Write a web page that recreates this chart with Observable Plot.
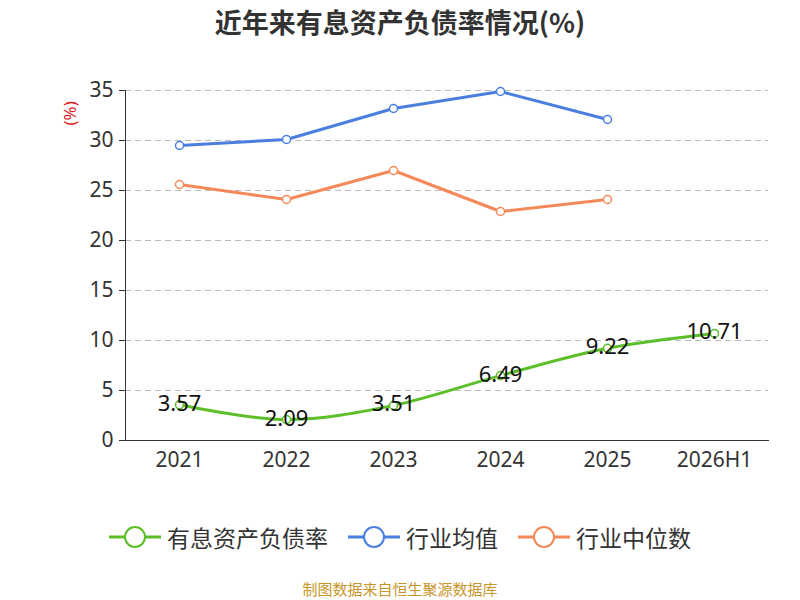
<!DOCTYPE html><html><head><meta charset="utf-8">
<script src="https://cdn.jsdelivr.net/npm/d3@7"></script>
<script src="https://cdn.jsdelivr.net/npm/@observablehq/plot@0.6"></script>
<style>body{margin:0;width:800px;height:600px;font-family:"Noto Sans CJK SC","Noto Sans",sans-serif;background:#fff;position:relative}
#t{position:absolute;top:2px;width:800px;text-align:center;font-size:27px;font-weight:bold;color:#333}
#c{position:absolute;top:50px;left:0}
#lg{position:absolute;top:520px;width:800px;display:flex;justify-content:center;gap:20px;font-size:23px;color:#333}
#lg span{display:flex;align-items:center;gap:6px}
#cap{position:absolute;top:578px;width:800px;text-align:center;font-size:15px;color:#c9962b}
</style></head><body>
<div id="t">近年来有息资产负债率情况(%)</div><div id="c"></div>
<div id="lg"></div><div id="cap">制图数据来自恒生聚源数据库</div>
<script>
const years=["2021","2022","2023","2024","2025","2026H1"];
const debt=[3.57,2.09,3.51,6.49,9.22,10.71];
const indAvg=[29.5,30.1,33.2,34.9,32.1];
const indMed=[25.6,24.1,27.0,22.9,24.1];
const names=["有息资产负债率","行业均值","行业中位数"];
const colors=["#5cbf2a","#4a7fe0","#f5895a"];
const A=indAvg.map((v,i)=>({x:years[i],y:v}));
const M=indMed.map((v,i)=>({x:years[i],y:v}));
const D=debt.map((v,i)=>({x:years[i],y:v}));
const p=Plot.plot({width:800,height:430,marginLeft:125,marginRight:32,marginTop:40,marginBottom:40,
style:{fontSize:"21px",color:"#333",fontFamily:"Noto Sans, sans-serif"},
x:{type:"point",domain:years,padding:0.5,label:null},
y:{domain:[0,35],ticks:[0,5,10,15,20,25,30,35],label:null},
marks:[
Plot.gridY([5,10,15,20,25,30,35],{stroke:"#bbb",strokeOpacity:1,strokeDasharray:"6,4"}),
Plot.frame({anchor:"left",stroke:"#333"}),Plot.frame({anchor:"bottom",stroke:"#333"}),
Plot.axisY({ticks:[0,5,10,15,20,25,30,35],tickSize:6,tickPadding:6,label:null}),
Plot.axisX({tickSize:0,tickPadding:12,label:null}),
Plot.line(A,{x:"x",y:"y",stroke:colors[1],strokeWidth:3}),
Plot.dot(A,{x:"x",y:"y",r:4,stroke:colors[1],fill:"white",strokeWidth:1.5}),
Plot.line(M,{x:"x",y:"y",stroke:colors[2],strokeWidth:3}),
Plot.dot(M,{x:"x",y:"y",r:4,stroke:colors[2],fill:"white",strokeWidth:1.5}),
Plot.line(D,{x:"x",y:"y",stroke:colors[0],strokeWidth:3,curve:"catmull-rom"}),
Plot.dot(D,{x:"x",y:"y",r:4,stroke:colors[0],fill:"white",strokeWidth:1.5}),
Plot.text(D,{x:"x",y:"y",text:d=>d.y.toFixed(2),fill:"#111",fontSize:22,dy:-1}),
Plot.text(["(%)"],{frameAnchor:"top-left",dx:-62,dy:35,rotate:-90,fill:"#e02020",fontSize:17})
]});
document.getElementById("c").appendChild(p);
document.getElementById("lg").innerHTML=names.map((n,i)=>`<span><svg width="52" height="24"><line x1="0" y1="12" x2="52" y2="12" stroke="${colors[i]}" stroke-width="3"/><circle cx="26" cy="12" r="10" fill="white" stroke="${colors[i]}" stroke-width="2"/></svg>${n}</span>`).join("");
</script></body></html>
